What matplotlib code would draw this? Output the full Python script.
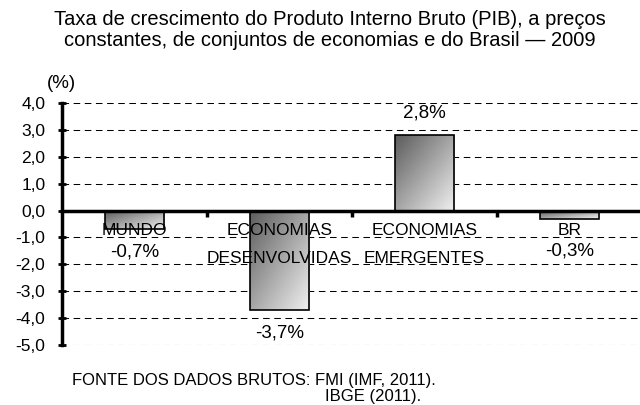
import matplotlib
matplotlib.use("Agg")
import matplotlib.pyplot as plt
import numpy as np

plt.rcParams['font.family'] = ['Liberation Sans', 'DejaVu Sans']

categorias = ["MUNDO", "ECONOMIAS\nDESENVOLVIDAS", "ECONOMIAS\nEMERGENTES", "BR"]
valores = [-0.7, -3.7, 2.8, -0.3]
rotulos = ["-0,7%", "-3,7%", "2,8%", "-0,3%"]
yticks = [4, 3, 2, 1, 0, -1, -2, -3, -4, -5]
ytick_labels = ["4,0", "3,0", "2,0", "1,0", "0,0", "-1,0", "-2,0", "-3,0", "-4,0", "-5,0"]

titulo = ("Taxa de crescimento do Produto Interno Bruto (PIB), a preços\n"
          "constantes, de conjuntos de economias e do Brasil \u2014 2009")

fig = plt.figure(figsize=(6.4, 4.05), dpi=100)
ax = fig.add_axes([62/640, 60/405, 580/640, 242/405])

x = np.arange(len(categorias))
largura = 0.41
barras = ax.bar(x, valores, width=largura, facecolor='none',
                edgecolor='black', linewidth=1.2, zorder=3)

# gradiente diagonal (escuro no canto superior esquerdo)
n = 64
u = np.linspace(0, 1, n)
grad = (u[None, :] + u[:, None]) / 2
for b in barras:
    x0, y0 = b.get_x(), b.get_y()
    w, h = b.get_width(), b.get_height()
    ylo, yhi = min(y0, y0 + h), max(y0, y0 + h)
    im = ax.imshow(grad, extent=(x0, x0 + w, ylo, yhi), origin='upper',
                   cmap='gray', vmin=-0.62, vmax=1.1, aspect='auto',
                   zorder=2, interpolation='bilinear')
    im.set_clip_path(b)

ax.set_xlim(-0.5, len(categorias) - 0.5)
ax.set_ylim(-5, 4)

# grade tracejada
for yv in yticks:
    if yv != 0:
        ax.axhline(yv, color='black', linewidth=0.75,
                   linestyle=(0, (6.3, 4.4)), zorder=1)

ax.spines['top'].set_visible(False)
ax.spines['right'].set_visible(False)
ax.spines['left'].set_linewidth(2.5)
ax.spines['bottom'].set_position(('data', 0))
ax.spines['bottom'].set_linewidth(2.5)
ax.spines['bottom'].set_zorder(4)

ax.set_yticks(yticks)
ax.set_yticklabels(ytick_labels, fontsize=12.5)
ax.tick_params(axis='y', direction='inout', length=6, width=2, pad=9)
ax.set_xticks(x[:-1] + 0.5)
ax.set_xticklabels([])
ax.tick_params(axis='x', direction='out', length=4, width=2.5)

# rótulos das categorias
for xi, cat in zip(x, categorias):
    ax.annotate(cat, (xi, 0), xytext=(0, -9), textcoords='offset points',
                ha='center', va='top', fontsize=12.5, linespacing=2.1,
                zorder=5)

# rótulos dos valores (abaixo do rótulo da categoria quando negativos)
for xi, v, r in zip(x, valores, rotulos):
    if v > 0:
        ax.annotate(r, (xi, v), xytext=(0, 16), textcoords='offset points',
                    ha='center', va='center', fontsize=13.5, zorder=5)
    else:
        ax.annotate(r, (xi, min(v, -0.65)), xytext=(0, -16.5),
                    textcoords='offset points', ha='center', va='center',
                    fontsize=13.5, zorder=5)

fig.text(0.515, 1 - 10/405, titulo, ha='center', va='top',
         fontsize=14.5, linespacing=1.1)
fig.text(47/640, 1 - 83/405, "(%)", ha='left', va='center', fontsize=13.5)

fonte1 = "FONTE DOS DADOS BRUTOS: "
fig.text(72/640, 1 - 380/405, fonte1 + "FMI (IMF, 2011).",
         ha='left', va='center', fontsize=12)
fig.canvas.draw()
tmp = fig.text(72/640, 1 - 380/405, fonte1, ha='left', va='center', fontsize=12)
bb = tmp.get_window_extent(fig.canvas.get_renderer())
tmp.remove()
fig.text(bb.x1 / 640 + 10/640, 1 - 397/405, "IBGE (2011).",
         ha='left', va='center', fontsize=12)

fig.savefig("out.png", dpi=100)
